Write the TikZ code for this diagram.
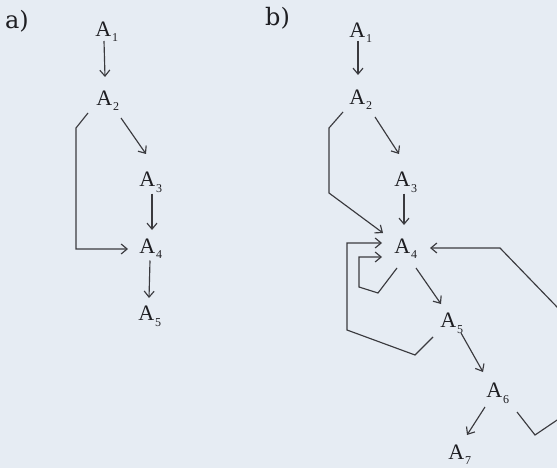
\documentclass[tikz,border=0pt]{standalone}
\usepackage{fontspec}
\setmainfont{Liberation Serif}
\newfontfamily\labfont{DejaVu Serif}
\usetikzlibrary{arrows.meta}
\definecolor{bgc}{HTML}{E6ECF3}
\definecolor{linec}{HTML}{3A3A3E}
\definecolor{textc}{HTML}{1E1E22}
\newcommand{\Asub}[1]{A\kern0.8pt\raisebox{-5.5pt}{\fontsize{12}{12}\selectfont #1}}
\begin{document}
\begin{tikzpicture}[x=1pt,y=-1pt,
  lab/.style={inner sep=0pt, text=textc, font=\fontsize{22}{26}\selectfont},
  panel/.style={inner sep=0pt, text=textc, font=\labfont\fontsize{24}{28}\selectfont},
  conn/.style={draw=linec, line width=1.15pt, -{Straight Barb[length=6pt,width=10pt]}}]
\useasboundingbox (0,0) rectangle (557,468);
\fill[bgc] (0,0) rectangle (557,468);
\clip (0,0) rectangle (557,468);

% panel labels
\node[panel] (pa) at (17,21) {a)};
\node[panel] (pb) at (277.5,18.5) {b)};

% panel a nodes
\node[lab] (a1) at (106.8,31.5) {\Asub{1}};
\node[lab] (a2) at (107.8,100.5) {\Asub{2}};
\node[lab] (a3) at (150.8,182.5) {\Asub{3}};
\node[lab] (a4) at (150.8,248.5) {\Asub{4}};
\node[lab] (a5) at (149.8,316.5) {\Asub{5}};

% panel a connectors
\draw[conn] ([shift={(-2.8,9.5)}]a1.center) -- ([shift={(-2.8,-23.5)}]a2.center);
\draw[conn] ([shift={(13.2,17.5)}]a2.center) -- ([shift={(-4.8,-28.5)}]a3.center);
\draw[conn] ([shift={(-19.8,12.5)}]a2.center) -- ++(-12,15) |- ([shift={(-22.8,0.5)}]a4.center);
\draw[conn] ([shift={(1.2,11)}]a3.center) -- ([shift={(1.2,-18.5)}]a4.center);
\draw[conn] ([shift={(-0.8,12)}]a4.center) -- ([shift={(-0.8,-18.5)}]a5.center);

% panel b nodes
\node[lab] (b1) at (360.8,32.5) {\Asub{1}};
\node[lab] (b2) at (360.8,99.5) {\Asub{2}};
\node[lab] (b3) at (405.8,182.5) {\Asub{3}};
\node[lab] (b4) at (405.8,248.5) {\Asub{4}};
\node[lab] (b5) at (451.8,323.5) {\Asub{5}};
\node[lab] (b6) at (497.8,393.5) {\Asub{6}};
\node[lab] (b7) at (459.8,454.5) {\Asub{7}};

% panel b connectors
\draw[conn] ([shift={(-2.8,8.5)}]b1.center) -- ([shift={(-2.8,-24.5)}]b2.center);
\draw[conn] ([shift={(14.2,17.5)}]b2.center) -- ([shift={(-6.8,-28.5)}]b3.center);
\draw[conn] ([shift={(-17.8,12.5)}]b2.center) -- ++(-14,16) -- ++(0,65) -- ([shift={(-22.8,-15.5)}]b4.center);
\draw[conn] ([shift={(-1.8,11)}]b3.center) -- ([shift={(-1.8,-23.5)}]b4.center);
\draw[conn] ([shift={(-8.8,19.5)}]b4.center) -- ++(-19,25) -- ++(-19,-6) |- ([shift={(-23.8,8.5)}]b4.center);
\draw[conn] ([shift={(10.2,19.5)}]b4.center) -- ([shift={(-10.8,-19.5)}]b5.center);
\draw[conn] ([shift={(-18.8,13.5)}]b5.center) -- ++(-18,18) -- ++(-68,-25) |- ([shift={(-23.8,-5.5)}]b4.center);
\draw[conn] ([shift={(9.2,9.5)}]b5.center) -- ([shift={(-14.8,-21.5)}]b6.center);
\draw[conn] ([shift={(-12.8,13.5)}]b6.center) -- ([shift={(7.2,-19.5)}]b7.center);
\draw[conn] ([shift={(19.2,18.5)}]b6.center) -- ++(18,23) -- ++(65,-44) -- ++(0,-39.5) -- ++(-100,-103.5) -- ([shift={(24.2,-0.5)}]b4.center);
\end{tikzpicture}
\end{document}
